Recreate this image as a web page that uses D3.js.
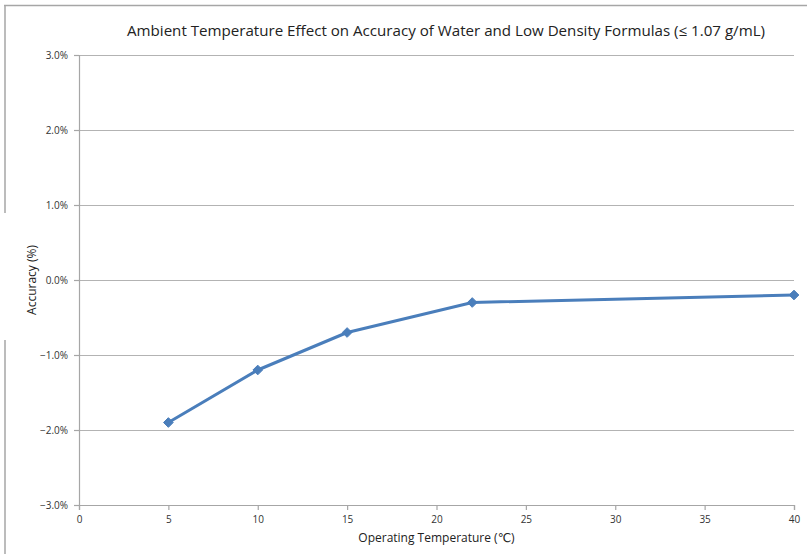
<!DOCTYPE html>
<html>
<head>
<meta charset="utf-8">
<script src="https://cdn.jsdelivr.net/npm/d3@7"></script>
<style>
  body { margin: 0; background: #fff; }
  text { font-family: "Open Sans", "DejaVu Sans", sans-serif; }
</style>
</head>
<body>
<div id="chartDiv"></div>
<script>
// data
var temps = [5, 10, 15, 22, 40];
var accuracy = [-1.9, -1.2, -0.7, -0.3, -0.2];
var xTicks = [0, 5, 10, 15, 20, 25, 30, 35, 40];
var yTicks = [-3, -2, -1, 0, 1, 2, 3];

var title = "Ambient Temperature Effect on Accuracy of Water and Low Density Formulas (\u2264 1.07 g/mL)";

var svg = d3.select("#chartDiv").append("svg")
    .attr("width", 807)
    .attr("height", 554);

var margin = {top: 55, right: 13, bottom: 49, left: 79};
var width = 807 - margin.left - margin.right,
    height = 554 - margin.top - margin.bottom;

// outer frame (top and left only, left has a gap)
svg.append("line").attr("x1", 4).attr("x2", 807).attr("y1", 5.5).attr("y2", 5.5)
    .attr("stroke", "#a6a6a6").attr("stroke-width", 1.5);
svg.append("line").attr("x1", 5).attr("x2", 5).attr("y1", 5).attr("y2", 213)
    .attr("stroke", "#a6a6a6").attr("stroke-width", 1.5);
svg.append("line").attr("x1", 5).attr("x2", 5).attr("y1", 340).attr("y2", 554)
    .attr("stroke", "#a6a6a6").attr("stroke-width", 1.5);

var g = svg.append("g").attr("transform", "translate(" + margin.left + "," + margin.top + ")");

var x_scale = d3.scaleLinear().domain([0, 40]).range([0, width]);
var y_scale = d3.scaleLinear().domain([-3, 3]).range([height, 0]);

// grid lines
g.append("g").selectAll("line").data(yTicks).enter().append("line")
    .attr("x1", 0).attr("x2", width)
    .attr("y1", function(d){ return Math.round(y_scale(d)) + 0.5; })
    .attr("y2", function(d){ return Math.round(y_scale(d)) + 0.5; })
    .attr("stroke", "#b3b3b3").attr("stroke-width", 1.2);

// y axis
var yAxis = d3.axisLeft(y_scale).tickValues(yTicks).tickSize(5).tickPadding(6)
    .tickFormat(function(d){ return d3.format(".1f")(d) + "%"; });
var yGroup = g.append("g").call(yAxis);

// x axis
var xAxis = d3.axisBottom(x_scale).tickValues(xTicks).tickSize(5).tickPadding(6);
var xGroup = g.append("g").attr("transform", "translate(0," + height + ")").call(xAxis);

[yGroup, xGroup].forEach(function(ax){
  ax.select(".domain").attr("stroke", "#a6a6a6").attr("stroke-width", 1.2);
  ax.selectAll(".tick line").attr("stroke", "#a6a6a6").attr("stroke-width", 1.2);
  ax.selectAll("text").attr("fill", "#333").style("font-size", "10px")
    .style("font-family", "'Open Sans', sans-serif");
});
yGroup.select(".domain").attr("d", "M-5,0.5H0.5V" + (height + 0.5) + "H-5");
xGroup.select(".domain").attr("d", "M0.5,5V0.5H" + (width + 0.5) + "V5");

// the series
var pts = temps.map(function(t, i){ return [t, accuracy[i]]; });

var line = d3.line()
    .x(function(d){ return x_scale(d[0]); })
    .y(function(d){ return y_scale(d[1]); });

g.append("path").datum(pts)
    .attr("d", line)
    .attr("fill", "none")
    .attr("stroke", "#4a7ebb")
    .attr("stroke-width", 3)
    .attr("stroke-linejoin", "round");

g.append("g").selectAll("path").data(pts).enter().append("path")
    .attr("d", d3.symbol().type(d3.symbolDiamond2).size(60))
    .attr("transform", function(d){ return "translate(" + x_scale(d[0]) + "," + y_scale(d[1]) + ")"; })
    .attr("fill", "#4a7ebb").attr("stroke", "#4a7ebb").attr("stroke-width", 1);

// titles
svg.append("text")
    .attr("x", 446).attr("y", 36)
    .attr("text-anchor", "middle")
    .attr("fill", "#222")
    .style("font-size", "14.5px")
    .attr("textLength", 638)
    .attr("lengthAdjust", "spacingAndGlyphs")
    .text(title);

svg.append("text")
    .attr("x", margin.left + width / 2).attr("y", 542)
    .attr("text-anchor", "middle")
    .attr("fill", "#222")
    .style("font-size", "12px")
    .text("Operating Temperature (\u2103)");

svg.append("text")
    .attr("transform", "translate(36," + (margin.top + height / 2) + ") rotate(-90)")
    .attr("text-anchor", "middle")
    .attr("fill", "#222")
    .style("font-size", "12px")
    .text("Accuracy (%)");
</script>
</body>
</html>
